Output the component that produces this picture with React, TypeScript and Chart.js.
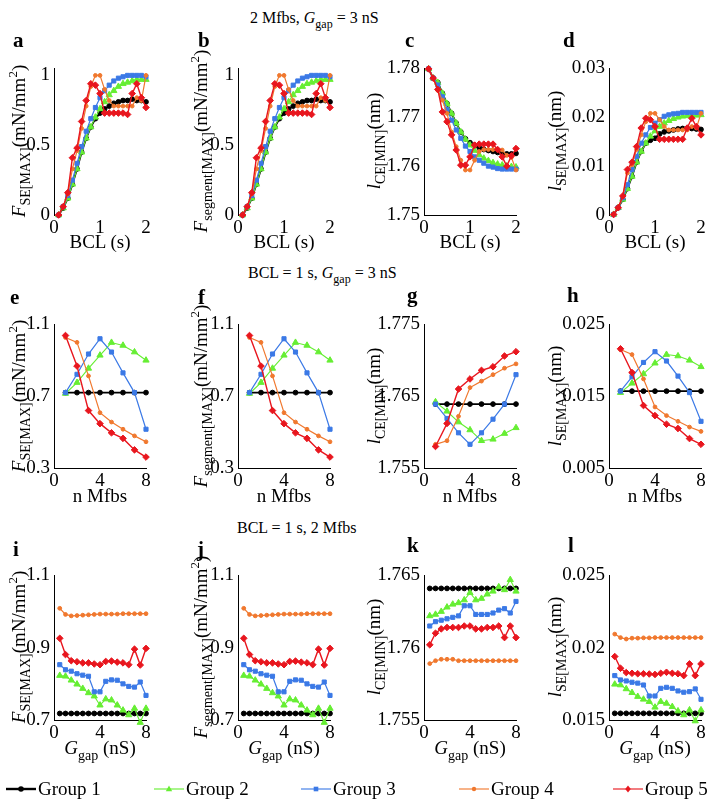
import React, { useEffect, useRef } from 'react';
import { Chart, registerables } from 'chart.js';
Chart.register(...registerables);

// ---------- categories ----------
const BCL = [0.1, 0.2, 0.3, 0.4, 0.5, 0.6, 0.7, 0.8, 0.9, 1.0, 1.1, 1.2, 1.3, 1.4, 1.5, 1.6, 1.7, 1.8, 1.9, 2.0];
const N_MFBS = [1, 2, 3, 4, 5, 6, 7, 8];
const G_GAP = [0.5, 1, 1.5, 2, 2.5, 3, 3.5, 4, 4.5, 5, 5.5, 6, 6.5, 7, 7.5, 8];

const GROUP_NAMES = ['Group 1', 'Group 2', 'Group 3', 'Group 4', 'Group 5'];

// ---------- row 1 : 2 Mfbs, Ggap = 3 nS ----------
const A_G1 = [0.0, 0.05, 0.12, 0.22, 0.33, 0.45, 0.55, 0.63, 0.69, 0.73, 0.76, 0.78, 0.80, 0.81, 0.82, 0.82, 0.83, 0.82, 0.82, 0.81];
const A_G2 = [0.0, 0.05, 0.12, 0.22, 0.33, 0.45, 0.55, 0.63, 0.70, 0.76, 0.81, 0.86, 0.89, 0.92, 0.94, 0.95, 0.96, 0.97, 0.97, 0.97];
const A_G3 = [0.0, 0.06, 0.14, 0.25, 0.37, 0.49, 0.60, 0.69, 0.77, 0.84, 0.89, 0.93, 0.96, 0.98, 0.99, 1.0, 1.0, 1.0, 1.0, 0.99];
const A_G4 = [0.0, 0.06, 0.15, 0.33, 0.46, 0.62, 0.78, 0.92, 1.0, 1.0, 0.90, 0.82, 0.78, 0.78, 0.78, 0.78, 0.78, 0.84, 0.82, 1.0];
const A_G5 = [0.0, 0.06, 0.16, 0.41, 0.48, 0.67, 0.82, 0.94, 0.93, 0.87, 0.73, 0.73, 0.73, 0.73, 0.73, 0.72, 0.87, 0.94, 0.84, 0.77];

const C_G1 = [1.7799, 1.778, 1.7771, 1.7749, 1.7728, 1.7708, 1.7688, 1.767, 1.7656, 1.7648, 1.7643, 1.7638, 1.7634, 1.7632, 1.763, 1.7628, 1.7626, 1.7625, 1.7625, 1.7626];
const C_G2 = [1.7799, 1.778, 1.7771, 1.7749, 1.7728, 1.7708, 1.7688, 1.767, 1.7655, 1.7643, 1.7632, 1.7623, 1.7616, 1.7611, 1.7607, 1.7604, 1.7602, 1.76, 1.7599, 1.7598];
const C_G3 = [1.7799, 1.778, 1.7766, 1.7742, 1.7716, 1.7694, 1.7674, 1.7657, 1.7641, 1.763, 1.7619, 1.7612, 1.7606, 1.76, 1.7598, 1.7595, 1.7594, 1.7594, 1.7594, 1.7594];
const C_G4 = [1.7799, 1.778, 1.7755, 1.7735, 1.7708, 1.767, 1.764, 1.7612, 1.7592, 1.7592, 1.7612, 1.763, 1.7634, 1.7634, 1.7634, 1.7634, 1.7633, 1.7622, 1.7618, 1.7592];
const C_G5 = [1.7799, 1.778, 1.7757, 1.7711, 1.7691, 1.7664, 1.7633, 1.7602, 1.7602, 1.7619, 1.7643, 1.7645, 1.7645, 1.7645, 1.7645, 1.7634, 1.7619, 1.76, 1.7621, 1.7636];

const D_G1 = [0.0001, 0.0015, 0.0032, 0.0054, 0.0079, 0.0108, 0.013, 0.0147, 0.0153, 0.0157, 0.0166, 0.017, 0.0172, 0.0174, 0.0176, 0.0177, 0.0177, 0.0177, 0.0176, 0.0175];
const D_G2 = [0.0001, 0.0015, 0.0032, 0.0054, 0.0079, 0.0108, 0.013, 0.0147, 0.0161, 0.0172, 0.0181, 0.0188, 0.0193, 0.0197, 0.02, 0.0202, 0.0203, 0.0204, 0.0204, 0.0205];
const D_G3 = [0.0001, 0.0015, 0.0035, 0.0062, 0.0093, 0.012, 0.0147, 0.0164, 0.0179, 0.0188, 0.0195, 0.0202, 0.0205, 0.0207, 0.0208, 0.021, 0.021, 0.021, 0.021, 0.021];
const D_G4 = [0.0001, 0.0015, 0.0037, 0.0086, 0.0103, 0.0134, 0.0164, 0.0191, 0.0208, 0.0208, 0.0195, 0.0181, 0.0174, 0.0174, 0.0174, 0.0174, 0.0174, 0.0181, 0.0178, 0.0208];
const D_G5 = [0.0001, 0.0015, 0.0039, 0.0093, 0.0108, 0.014, 0.0178, 0.0198, 0.0195, 0.0181, 0.0155, 0.0155, 0.0155, 0.0155, 0.0155, 0.0155, 0.0178, 0.0198, 0.0181, 0.0164];

// ---------- row 2 : BCL = 1 s, Ggap = 3 nS ----------
const E_G1 = [0.72, 0.72, 0.72, 0.72, 0.72, 0.72, 0.72, 0.72];
const E_G2 = [0.715, 0.776, 0.855, 0.928, 0.999, 0.983, 0.946, 0.90];
const E_G3 = [0.72, 0.822, 0.935, 1.02, 0.946, 0.83, 0.72, 0.516];
const E_G4 = [1.027, 1.0, 0.813, 0.608, 0.556, 0.516, 0.479, 0.446];
const E_G5 = [1.038, 0.868, 0.62, 0.547, 0.496, 0.465, 0.401, 0.361];

const G_G1 = [1.7639, 1.7639, 1.7639, 1.7639, 1.7639, 1.7639, 1.7639, 1.7639];
const G_G2 = [1.7642, 1.7629, 1.7614, 1.7603, 1.7588, 1.759, 1.7598, 1.7606];
const G_G3 = [1.7639, 1.7619, 1.7599, 1.7583, 1.7599, 1.7618, 1.7639, 1.768];
const G_G4 = [1.7583, 1.7588, 1.7622, 1.7662, 1.7671, 1.768, 1.7689, 1.7695];
const G_G5 = [1.758, 1.7612, 1.766, 1.7674, 1.7686, 1.7691, 1.7706, 1.7712];

const H_G1 = [0.0157, 0.0157, 0.0157, 0.0157, 0.0157, 0.0157, 0.0157, 0.0157];
const H_G2 = [0.0155, 0.0168, 0.0181, 0.0196, 0.0208, 0.0206, 0.02, 0.0191];
const H_G3 = [0.0157, 0.0177, 0.0197, 0.0212, 0.0199, 0.0178, 0.0155, 0.0115];
const H_G4 = [0.0215, 0.0208, 0.0174, 0.0135, 0.0123, 0.0115, 0.0107, 0.0101];
const H_G5 = [0.0216, 0.0183, 0.0137, 0.0123, 0.0111, 0.0105, 0.0091, 0.0083];

// ---------- row 3 : BCL = 1 s, 2 Mfbs ----------
const I_G1 = [0.718, 0.718, 0.718, 0.718, 0.718, 0.718, 0.718, 0.718, 0.718, 0.718, 0.718, 0.718, 0.718, 0.718, 0.718, 0.718];
const I_G2 = [0.823, 0.821, 0.81, 0.799, 0.787, 0.775, 0.766, 0.741, 0.758, 0.755, 0.741, 0.727, 0.714, 0.732, 0.693, 0.732];
const I_G3 = [0.853, 0.839, 0.835, 0.828, 0.824, 0.821, 0.778, 0.778, 0.807, 0.811, 0.81, 0.80, 0.793, 0.791, 0.805, 0.768];
const I_G4 = [1.009, 0.992, 0.988, 0.989, 0.99, 0.991, 0.992, 0.993, 0.993, 0.993, 0.993, 0.994, 0.994, 0.994, 0.994, 0.994];
const I_G5 = [0.926, 0.881, 0.864, 0.861, 0.858, 0.858, 0.855, 0.853, 0.862, 0.863, 0.86, 0.858, 0.853, 0.896, 0.852, 0.898];

const K_G1 = [1.7641, 1.7641, 1.7641, 1.7641, 1.7641, 1.7641, 1.7641, 1.7641, 1.7641, 1.7641, 1.7641, 1.7641, 1.7641, 1.7641, 1.7641, 1.7641];
const K_G2 = [1.7622, 1.7623, 1.7625, 1.7628, 1.763, 1.7631, 1.7633, 1.7638, 1.7633, 1.7634, 1.7637, 1.7639, 1.7642, 1.764, 1.7647, 1.7639];
const K_G3 = [1.7615, 1.7618, 1.7619, 1.762, 1.7621, 1.7622, 1.7629, 1.7629, 1.7623, 1.7623, 1.7623, 1.7624, 1.7626, 1.7627, 1.7624, 1.7632];
const K_G4 = [1.7589, 1.7591, 1.7592, 1.7592, 1.7592, 1.7591, 1.7591, 1.7591, 1.7591, 1.7591, 1.7591, 1.7591, 1.7591, 1.7591, 1.7591, 1.7591];
const K_G5 = [1.7602, 1.761, 1.7613, 1.7614, 1.7614, 1.7614, 1.7615, 1.7615, 1.7613, 1.7613, 1.7614, 1.7614, 1.7615, 1.7607, 1.7615, 1.7607];

const L_G1 = [0.01546, 0.01546, 0.01546, 0.01546, 0.01546, 0.01546, 0.01546, 0.01546, 0.01546, 0.01546, 0.01546, 0.01546, 0.01546, 0.01546, 0.01546, 0.01546];
const L_G2 = [0.01747, 0.01742, 0.01715, 0.01689, 0.01662, 0.01643, 0.01627, 0.01588, 0.01627, 0.01615, 0.01592, 0.01562, 0.01535, 0.01569, 0.01493, 0.01569];
const L_G3 = [0.01807, 0.01777, 0.0177, 0.01761, 0.01755, 0.01742, 0.01666, 0.01666, 0.01719, 0.01726, 0.01719, 0.01701, 0.01692, 0.01696, 0.01715, 0.01643];
const L_G4 = [0.02094, 0.0207, 0.0206, 0.02066, 0.02066, 0.02068, 0.02068, 0.0207, 0.0207, 0.0207, 0.0207, 0.0207, 0.0207, 0.0207, 0.0207, 0.0207];
const L_G5 = [0.01939, 0.01858, 0.01828, 0.01823, 0.0182, 0.0182, 0.01818, 0.01815, 0.01823, 0.0183, 0.01823, 0.0182, 0.01807, 0.01888, 0.01807, 0.01888];

// ---------- ticks ----------
const BCL_TICKS = [0, 1, 2];
const BCL_TICK_LABELS = ['0', '1', '2'];
const INT8_TICKS = [0, 4, 8];
const INT8_TICK_LABELS = ['0', '4', '8'];

const F1_TICKS = [0, 0.5, 1];
const F1_LABELS = ['0', '0.5', '1'];
const CE1_TICKS = [1.75, 1.76, 1.77, 1.78];
const CE1_LABELS = ['1.75', '1.76', '1.77', '1.78'];
const SE1_TICKS = [0, 0.01, 0.02, 0.03];
const SE1_LABELS = ['0', '0.01', '0.02', '0.03'];
const F2_TICKS = [0.3, 0.7, 1.1];
const F2_LABELS = ['0.3', '0.7', '1.1'];
const CE2_TICKS = [1.755, 1.765, 1.775];
const CE2_LABELS = ['1.755', '1.765', '1.775'];
const SE2_TICKS = [0.005, 0.015, 0.025];
const SE2_LABELS = ['0.005', '0.015', '0.025'];
const F3_TICKS = [0.7, 0.9, 1.1];
const F3_LABELS = ['0.7', '0.9', '1.1'];
const CE3_TICKS = [1.755, 1.76, 1.765];
const CE3_LABELS = ['1.755', '1.76', '1.765'];
const SE3_TICKS = [0.015, 0.02, 0.025];
const SE3_LABELS = ['0.015', '0.02', '0.025'];

// ---------- styles ----------
const COLORS = ['#000000', '#66ee33', '#3b79e6', '#f0782e', '#e8161e'];
const POINT_STYLES = ['circle', 'triangle', 'rect', 'circle', 'rectRot'];
const POINT_RADII = [2.4, 3.6, 2.9, 1.9, 3.3];
const LINE_WIDTHS = [1.9, 1.1, 1.2, 1.2, 1.4];
const SERIF = '"Liberation Serif", "Times New Roman", serif';

const COL_LEFT = [54, 238, 424, 609];
const PLOT_W = 92;
const ROW_TOP = [67, 323, 574];
const ROW_BOTTOM = [215, 468, 720];
const YLABEL_OFFSET = [-34, -36, -49, -53];
const XLABEL_Y = [242, 496, 749];

type PanelCfg = {
  letter: string; row: number; col: number;
  xs: number[]; xMin: number; xMax: number; xTicks: number[]; xTickLabels: string[];
  series: number[][]; yMin: number; yMax: number; yTicks: number[]; yTickLabels: string[];
  sym: string; sub: string; unit: 'force' | 'nm';
};

const PANELS: PanelCfg[] = [
  { letter: 'a', row: 0, col: 0, xs: BCL, xMin: 0, xMax: 2, xTicks: BCL_TICKS, xTickLabels: BCL_TICK_LABELS, series: [A_G1, A_G2, A_G3, A_G4, A_G5], yMin: 0, yMax: 1.05, yTicks: F1_TICKS, yTickLabels: F1_LABELS, sym: 'F', sub: 'SE[MAX]', unit: 'force' },
  { letter: 'b', row: 0, col: 1, xs: BCL, xMin: 0, xMax: 2, xTicks: BCL_TICKS, xTickLabels: BCL_TICK_LABELS, series: [A_G1, A_G2, A_G3, A_G4, A_G5], yMin: 0, yMax: 1.05, yTicks: F1_TICKS, yTickLabels: F1_LABELS, sym: 'F', sub: 'segment[MAX]', unit: 'force' },
  { letter: 'c', row: 0, col: 2, xs: BCL, xMin: 0, xMax: 2, xTicks: BCL_TICKS, xTickLabels: BCL_TICK_LABELS, series: [C_G1, C_G2, C_G3, C_G4, C_G5], yMin: 1.75, yMax: 1.78, yTicks: CE1_TICKS, yTickLabels: CE1_LABELS, sym: 'l', sub: 'CE[MIN]', unit: 'nm' },
  { letter: 'd', row: 0, col: 3, xs: BCL, xMin: 0, xMax: 2, xTicks: BCL_TICKS, xTickLabels: BCL_TICK_LABELS, series: [D_G1, D_G2, D_G3, D_G4, D_G5], yMin: 0, yMax: 0.03, yTicks: SE1_TICKS, yTickLabels: SE1_LABELS, sym: 'l', sub: 'SE[MAX]', unit: 'nm' },
  { letter: 'e', row: 1, col: 0, xs: N_MFBS, xMin: 0, xMax: 8, xTicks: INT8_TICKS, xTickLabels: INT8_TICK_LABELS, series: [E_G1, E_G2, E_G3, E_G4, E_G5], yMin: 0.3, yMax: 1.1, yTicks: F2_TICKS, yTickLabels: F2_LABELS, sym: 'F', sub: 'SE[MAX]', unit: 'force' },
  { letter: 'f', row: 1, col: 1, xs: N_MFBS, xMin: 0, xMax: 8, xTicks: INT8_TICKS, xTickLabels: INT8_TICK_LABELS, series: [E_G1, E_G2, E_G3, E_G4, E_G5], yMin: 0.3, yMax: 1.1, yTicks: F2_TICKS, yTickLabels: F2_LABELS, sym: 'F', sub: 'segment[MAX]', unit: 'force' },
  { letter: 'g', row: 1, col: 2, xs: N_MFBS, xMin: 0, xMax: 8, xTicks: INT8_TICKS, xTickLabels: INT8_TICK_LABELS, series: [G_G1, G_G2, G_G3, G_G4, G_G5], yMin: 1.755, yMax: 1.775, yTicks: CE2_TICKS, yTickLabels: CE2_LABELS, sym: 'l', sub: 'CE[MIN]', unit: 'nm' },
  { letter: 'h', row: 1, col: 3, xs: N_MFBS, xMin: 0, xMax: 8, xTicks: INT8_TICKS, xTickLabels: INT8_TICK_LABELS, series: [H_G1, H_G2, H_G3, H_G4, H_G5], yMin: 0.005, yMax: 0.025, yTicks: SE2_TICKS, yTickLabels: SE2_LABELS, sym: 'l', sub: 'SE[MAX]', unit: 'nm' },
  { letter: 'i', row: 2, col: 0, xs: G_GAP, xMin: 0, xMax: 8, xTicks: INT8_TICKS, xTickLabels: INT8_TICK_LABELS, series: [I_G1, I_G2, I_G3, I_G4, I_G5], yMin: 0.7, yMax: 1.1, yTicks: F3_TICKS, yTickLabels: F3_LABELS, sym: 'F', sub: 'SE[MAX]', unit: 'force' },
  { letter: 'j', row: 2, col: 1, xs: G_GAP, xMin: 0, xMax: 8, xTicks: INT8_TICKS, xTickLabels: INT8_TICK_LABELS, series: [I_G1, I_G2, I_G3, I_G4, I_G5], yMin: 0.7, yMax: 1.1, yTicks: F3_TICKS, yTickLabels: F3_LABELS, sym: 'F', sub: 'segment[MAX]', unit: 'force' },
  { letter: 'k', row: 2, col: 2, xs: G_GAP, xMin: 0, xMax: 8, xTicks: INT8_TICKS, xTickLabels: INT8_TICK_LABELS, series: [K_G1, K_G2, K_G3, K_G4, K_G5], yMin: 1.755, yMax: 1.765, yTicks: CE3_TICKS, yTickLabels: CE3_LABELS, sym: 'l', sub: 'CE[MIN]', unit: 'nm' },
  { letter: 'l', row: 2, col: 3, xs: G_GAP, xMin: 0, xMax: 8, xTicks: INT8_TICKS, xTickLabels: INT8_TICK_LABELS, series: [L_G1, L_G2, L_G3, L_G4, L_G5], yMin: 0.015, yMax: 0.025, yTicks: SE3_TICKS, yTickLabels: SE3_LABELS, sym: 'l', sub: 'SE[MAX]', unit: 'nm' },
];

const PAD_LEFT = 60;
const PAD_TOP = 14;
const PAD_RIGHT = 10;
const PAD_BOTTOM = 30;

function Panel({ cfg }: { cfg: PanelCfg }) {
  const ref = useRef<HTMLCanvasElement>(null);
  const top = ROW_TOP[cfg.row];
  const h = ROW_BOTTOM[cfg.row] - top;
  const left = COL_LEFT[cfg.col];
  const cw = PLOT_W + PAD_LEFT + PAD_RIGHT;
  const ch = h + PAD_TOP + PAD_BOTTOM;
  useEffect(() => {
    const tickFont = { family: SERIF, size: 19 };
    const chart = new Chart(ref.current as HTMLCanvasElement, {
      type: 'line',
      data: {
        datasets: cfg.series.map((ys, gi) => ({
          label: GROUP_NAMES[gi],
          data: cfg.xs.map((x, i) => ({ x, y: ys[i] })),
          borderColor: COLORS[gi],
          backgroundColor: COLORS[gi],
          pointBackgroundColor: COLORS[gi],
          pointBorderColor: COLORS[gi],
          pointStyle: POINT_STYLES[gi] as any,
          pointRadius: POINT_RADII[gi],
          pointBorderWidth: 1,
          borderWidth: LINE_WIDTHS[gi],
          tension: 0,
          clip: false as any,
          order: 4 - gi,
        })),
      },
      options: {
        animation: false,
        responsive: false,
        devicePixelRatio: 1,
        events: [],
        layout: { padding: { top: PAD_TOP, right: PAD_RIGHT, bottom: 0, left: 0 } },
        plugins: { legend: { display: false }, tooltip: { enabled: false }, title: { display: false } },
        scales: {
          x: {
            type: 'linear',
            min: cfg.xMin,
            max: cfg.xMax,
            grid: { display: false, drawTicks: false },
            border: { display: cfg.yMin !== 0, color: '#000', width: 1 },
            afterBuildTicks: (s: any) => { s.ticks = cfg.xTicks.map((v) => ({ value: v })); },
            afterFit: (s: any) => { s.height = PAD_BOTTOM; },
            ticks: {
              autoSkip: false, maxRotation: 0, padding: 2, color: '#000', font: tickFont,
              callback: (_v: any, i: number) => cfg.xTickLabels[i],
            },
          },
          y: {
            type: 'linear',
            min: cfg.yMin,
            max: cfg.yMax,
            grid: { display: false, drawTicks: false },
            border: { display: true, color: '#000', width: 1 },
            afterBuildTicks: (s: any) => { s.ticks = cfg.yTicks.map((v) => ({ value: v })); },
            afterFit: (s: any) => { s.width = PAD_LEFT; },
            ticks: {
              autoSkip: false, padding: 4, color: '#000', font: tickFont,
              callback: (_v: any, i: number) => cfg.yTickLabels[i],
            },
          },
        },
      } as any,
    });
    return () => chart.destroy();
  }, [cfg]);
  return (
    <canvas
      ref={ref}
      width={cw}
      height={ch}
      style={{ position: 'absolute', left: left - PAD_LEFT, top: top - PAD_TOP, width: cw, height: ch }}
    />
  );
}

function YLabel({ cfg }: { cfg: PanelCfg }) {
  const cx = COL_LEFT[cfg.col] + YLABEL_OFFSET[cfg.col];
  const cy = (ROW_TOP[cfg.row] + ROW_BOTTOM[cfg.row]) / 2;
  return (
    <div
      style={{
        position: 'absolute', left: cx, top: cy, whiteSpace: 'nowrap',
        transform: 'translate(-50%, -50%) rotate(-90deg)',
        fontFamily: SERIF, fontSize: 19, lineHeight: '20px', color: '#000',
      }}
    >
      <i>{cfg.sym}</i>
      <span style={{ fontSize: 14, position: 'relative', top: 5 }}>{cfg.sub}</span>
      {cfg.unit === 'force' ? (
        <span>(mN/mm<span style={{ fontSize: 13, position: 'relative', top: -8 }}>2</span>)</span>
      ) : (
        <span>(nm)</span>
      )}
    </div>
  );
}

function XLabel({ row, col }: { row: number; col: number }) {
  const cx = COL_LEFT[col] + PLOT_W / 2;
  const cy = XLABEL_Y[row];
  let content: React.ReactNode;
  if (row === 0) content = 'BCL (s)';
  else if (row === 1) content = 'n Mfbs';
  else content = (<span><i>G</i><span style={{ fontSize: 14, position: 'relative', top: 6 }}>gap</span> (nS)</span>);
  return (
    <div style={{ position: 'absolute', left: cx, top: cy, transform: 'translate(-50%, -50%)', whiteSpace: 'nowrap', fontFamily: SERIF, fontSize: 19, lineHeight: '20px' }}>
      {content}
    </div>
  );
}

const LETTER_POS: Record<string, [number, number]> = {
  a: [13, 48], b: [198, 48], c: [405, 48], d: [563, 48],
  e: [10, 305], f: [198, 305], g: [407, 303], h: [567, 303],
  i: [13, 557], j: [197, 557], k: [407, 553], l: [568, 553],
};

function Letter({ ch }: { ch: string }) {
  const [x, baseline] = LETTER_POS[ch];
  const fs = 21;
  return (
    <div style={{ position: 'absolute', left: x, top: baseline - 0.8375 * fs, fontFamily: SERIF, fontWeight: 'bold', fontSize: fs, lineHeight: fs + 'px' }}>
      {ch}
    </div>
  );
}

function Title({ x, y, children }: { x: number; y: number; children: React.ReactNode }) {
  return (
    <div style={{ position: 'absolute', left: x, top: y, transform: 'translateY(-50%)', whiteSpace: 'nowrap', fontFamily: SERIF, fontSize: 16, lineHeight: '20px' }}>
      {children}
    </div>
  );
}

const GapSub = () => (<><i>G</i><span style={{ fontSize: 12, position: 'relative', top: 5 }}>gap</span></>);

function LegendMarker({ gi }: { gi: number }) {
  const c = COLORS[gi];
  const cx = 15, cy = 6;
  let marker: React.ReactNode = null;
  if (POINT_STYLES[gi] === 'circle') marker = <circle cx={cx} cy={cy} r={gi === 0 ? 2.8 : 2.2} fill={c} />;
  else if (POINT_STYLES[gi] === 'triangle') marker = <polygon points={`${cx},${cy - 3.5} ${cx + 3.2},${cy + 2.2} ${cx - 3.2},${cy + 2.2}`} fill={c} />;
  else if (POINT_STYLES[gi] === 'rect') marker = <rect x={cx - 2.3} y={cy - 2.3} width={4.6} height={4.6} fill={c} />;
  else marker = <polygon points={`${cx},${cy - 3.6} ${cx + 2.8},${cy} ${cx},${cy + 3.6} ${cx - 2.8},${cy}`} fill={c} />;
  return (
    <svg width={30} height={12} style={{ position: 'absolute', left: 0, top: 0 }}>
      <line x1={0} y1={cy} x2={30} y2={cy} stroke={c} strokeWidth={gi === 0 ? 2.4 : 1.5} strokeOpacity={gi === 0 ? 1 : 0.75} />
      {marker}
    </svg>
  );
}

const LEGEND_TEXT_X = [38, 186, 333, 491, 645];

function Legend() {
  return (
    <>
      {GROUP_NAMES.map((name, gi) => (
        <div key={name} style={{ position: 'absolute', left: LEGEND_TEXT_X[gi] - 32, top: 783, width: 110, height: 12 }}>
          <LegendMarker gi={gi} />
          <div style={{ position: 'absolute', left: 32, top: -5, fontFamily: SERIF, fontSize: 19, lineHeight: '22px', whiteSpace: 'nowrap' }}>{name}</div>
        </div>
      ))}
    </>
  );
}

export default function App() {
  return (
    <div style={{ position: 'absolute', left: 0, top: 0, width: 709, height: 803, background: '#fff', overflow: 'hidden', color: '#000', fontFamily: SERIF }}>
      <Title x={250} y={18}>2 Mfbs, <GapSub /> = 3 nS</Title>
      <Title x={248} y={273}>BCL = 1 s, <GapSub /> = 3 nS</Title>
      <Title x={237} y={528}>BCL = 1 s, 2 Mfbs</Title>
      {PANELS.map((p) => (
        <React.Fragment key={p.letter}>
          <Panel cfg={p} />
          <YLabel cfg={p} />
          <XLabel row={p.row} col={p.col} />
          <Letter ch={p.letter} />
        </React.Fragment>
      ))}
      <Legend />
    </div>
  );
}
